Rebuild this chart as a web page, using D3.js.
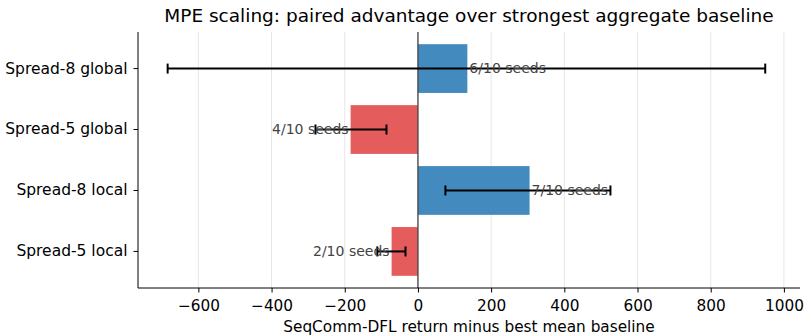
<!DOCTYPE html>
<html>
<head>
  <meta charset="utf-8">
  <title>MPE scaling</title>
  <script src="https://d3js.org/d3.v7.min.js"></script>
  <style>
    body { margin: 0; background: #fff; }
    text { font-family: "DejaVu Sans", sans-serif; }
  </style>
</head>
<body>
  <script>
    var categories = ["Spread-8 global", "Spread-5 global", "Spread-8 local", "Spread-5 local"];
    var advantage = [135, -184, 305, -72];
    var ciLow = [-684, -280, 75, -111];
    var ciHigh = [949, -86, 526, -34];
    var seedLabels = ["6/10 seeds", "4/10 seeds", "7/10 seeds", "2/10 seeds"];
    var xTicks = [-600, -400, -200, 0, 200, 400, 600, 800, 1000];

    var width = 806, height = 335;
    var margin = { top: 32, right: 6, bottom: 47, left: 138 };
    var innerW = width - margin.left - margin.right;
    var innerH = height - margin.top - margin.bottom;

    var svg = d3.select('body').append('svg')
      .attr('width', width)
      .attr('height', height);

    var g = svg.append('g')
      .attr('transform', 'translate(' + margin.left + ',' + margin.top + ')');

    var x = d3.scaleLinear().domain([-765, 1044]).range([0, innerW]);
    var y = d3.scaleBand().domain(categories).range([0, innerH]).padding(0.2);

    // grid
    g.selectAll('.grid').data(xTicks).enter().append('line')
      .attr('x1', function(d) { return x(d); })
      .attr('x2', function(d) { return x(d); })
      .attr('y1', 0).attr('y2', innerH)
      .attr('stroke', '#e6e6e6').attr('stroke-width', 1);

    var data = categories.map(function(c, i) {
      return { cat: c, v: advantage[i], lo: ciLow[i], hi: ciHigh[i], lab: seedLabels[i] };
    });

    g.selectAll('.bar').data(data).enter().append('rect')
      .attr('x', function(d) { return x(Math.min(0, d.v)); })
      .attr('width', function(d) { return Math.abs(x(d.v) - x(0)); })
      .attr('y', function(d) { return y(d.cat); })
      .attr('height', y.bandwidth())
      .attr('fill', function(d) { return d.v >= 0 ? '#438bbf' : '#e45c5c'; });

    // zero line
    g.append('line')
      .attr('x1', x(0)).attr('x2', x(0))
      .attr('y1', 0).attr('y2', innerH)
      .attr('stroke', '#444').attr('stroke-width', 1.3);

    // error bars
    var eb = g.selectAll('.err').data(data).enter().append('g')
      .attr('transform', function(d) { return 'translate(0,' + (y(d.cat) + y.bandwidth() / 2) + ')'; });
    eb.append('line')
      .attr('x1', function(d) { return x(d.lo); })
      .attr('x2', function(d) { return x(d.hi); })
      .attr('stroke', '#000').attr('stroke-width', 2);
    eb.append('line')
      .attr('x1', function(d) { return x(d.lo); })
      .attr('x2', function(d) { return x(d.lo); })
      .attr('y1', -5).attr('y2', 5)
      .attr('stroke', '#000').attr('stroke-width', 2);
    eb.append('line')
      .attr('x1', function(d) { return x(d.hi); })
      .attr('x2', function(d) { return x(d.hi); })
      .attr('y1', -5).attr('y2', 5)
      .attr('stroke', '#000').attr('stroke-width', 2);

    // seed labels
    eb.append('text')
      .attr('x', function(d) { return d.v >= 0 ? x(d.v) + 2 : x(d.v) - 2; })
      .attr('dy', '0.35em')
      .attr('text-anchor', function(d) { return d.v >= 0 ? 'start' : 'end'; })
      .attr('fill', '#444')
      .style('font-size', '14px')
      .text(function(d) { return d.lab; });

    // axes
    var xAxis = g.append('g')
      .attr('transform', 'translate(0,' + innerH + ')')
      .call(d3.axisBottom(x).tickValues(xTicks).tickSize(4.5).tickPadding(8)
        .tickFormat(function(d) { return d < 0 ? '\u2212' + Math.abs(d) : d; }));
    xAxis.select('.domain').attr('stroke', '#000').attr('stroke-width', 1)
      .attr('d', 'M0,0H' + innerW);
    xAxis.selectAll('text').style('font-size', '15.3px').attr('fill', '#000');

    var yAxis = g.append('g')
      .call(d3.axisLeft(y).tickSize(4.5).tickPadding(6));
    yAxis.select('.domain').attr('stroke', '#000').attr('stroke-width', 1)
      .attr('d', 'M0,0V' + innerH);
    yAxis.selectAll('text').style('font-size', '15.5px').attr('fill', '#000');

    svg.append('text')
      .attr('x', margin.left + innerW / 2)
      .attr('y', 22)
      .attr('text-anchor', 'middle')
      .style('font-size', '18.5px')
      .text('MPE scaling: paired advantage over strongest aggregate baseline');

    svg.append('text')
      .attr('x', margin.left + innerW / 2)
      .attr('y', 332)
      .attr('text-anchor', 'middle')
      .style('font-size', '15.3px')
      .text('SeqComm-DFL return minus best mean baseline');
  </script>
</body>
</html>
